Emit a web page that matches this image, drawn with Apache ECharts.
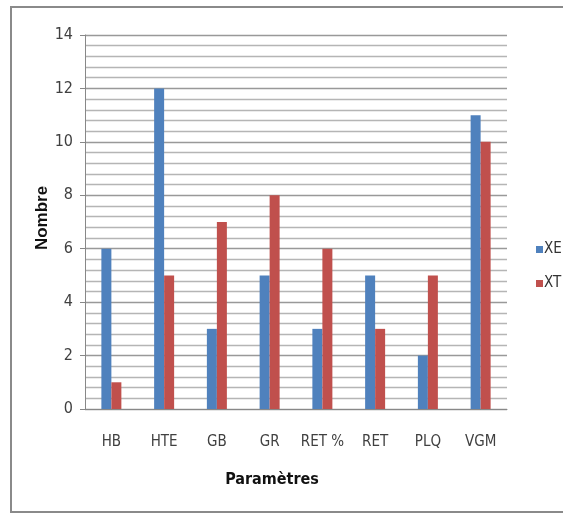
<!DOCTYPE html>
<html>
<head>
<meta charset="utf-8">
<script src="https://cdn.jsdelivr.net/npm/echarts@6/dist/echarts.min.js"></script>
<style>
  html, body { margin: 0; padding: 0; background: #fff; }
  #chart { width: 563px; height: 513px; }
</style>
</head>
<body>
<div id="chart"></div>
<script>
// Parameter categories and counts per group
var categories = ['HB', 'HTE', 'GB', 'GR', 'RET %', 'RET', 'PLQ', 'VGM'];
var xeValues = [6, 12, 3, 5, 3, 5, 2, 11];
var xtValues = [1, 5, 7, 8, 6, 3, 5, 10];
var seriesNames = ['XE', 'XT'];

var narrow = "'Liberation Sans Narrow', 'DejaVu Sans Condensed', 'Arial Narrow', sans-serif";

var chart = echarts.init(document.getElementById('chart'), null, { renderer: 'canvas' });

chart.setOption({
  backgroundColor: '#ffffff',
  animation: false,
  grid: { left: 85, right: 56, top: 35, bottom: 104, containLabel: false },
  legend: {
    orient: 'vertical',
    left: 531,
    top: 237,
    itemWidth: 7,
    itemHeight: 7,
    itemGap: 19,
    icon: 'rect',
    data: seriesNames,
    textStyle: { fontFamily: narrow, fontSize: 15, color: '#333', padding: [0, 0, 0, -4] }
  },
  xAxis: {
    type: 'category',
    data: categories,
    axisLine: { lineStyle: { color: '#888', width: 1 } },
    axisTick: { show: false },
    axisLabel: { interval: 0, fontFamily: narrow, fontSize: 15, color: '#404040', margin: 26 },
    splitLine: { show: false }
  },
  yAxis: {
    type: 'value',
    min: 0,
    max: 14,
    interval: 2,
    splitLine: { show: true, lineStyle: { color: '#999', width: 1.4 } },
    axisLine: { show: true, lineStyle: { color: '#888', width: 1 } },
    axisTick: { show: true, length: 5, lineStyle: { color: '#888' } },
    axisLabel: { fontFamily: narrow, fontSize: 16, color: '#404040', margin: 12 },
    minorTick: { show: false, splitNumber: 5 },
    minorSplitLine: { show: true, lineStyle: { color: '#b5b5b5', width: 1.3 } }
  },
  series: [
    {
      name: seriesNames[0],
      type: 'bar',
      data: xeValues,
      barWidth: 10,
      barGap: '0%',
      itemStyle: { color: '#4F81BD' }
    },
    {
      name: seriesNames[1],
      type: 'bar',
      data: xtValues,
      barWidth: 10,
      barGap: '0%',
      itemStyle: { color: '#C0504D' }
    }
  ],
  graphic: [
    {
      type: 'rect',
      silent: true,
      shape: { x: 11, y: 7, width: 620, height: 505 },
      style: { fill: 'none', stroke: '#8a8a8a', lineWidth: 2 }
    },
    {
      // vertical axis title
      type: 'text',
      x: 42,
      y: 218,
      rotation: Math.PI / 2,
      style: {
        text: 'Nombre',
        fontFamily: 'Liberation Sans, Arial, sans-serif',
        fontWeight: 'bold',
        fontSize: 17,
        fill: '#111',
        align: 'center',
        verticalAlign: 'middle'
      }
    },
    {
      type: 'text',
      x: 272,
      y: 480,
      style: {
        text: 'Paramètres',
        fontFamily: narrow,
        fontWeight: 'bold',
        fontSize: 16,
        fill: '#111',
        align: 'center',
        verticalAlign: 'middle'
      }
    }
  ]
});
</script>
</body>
</html>
